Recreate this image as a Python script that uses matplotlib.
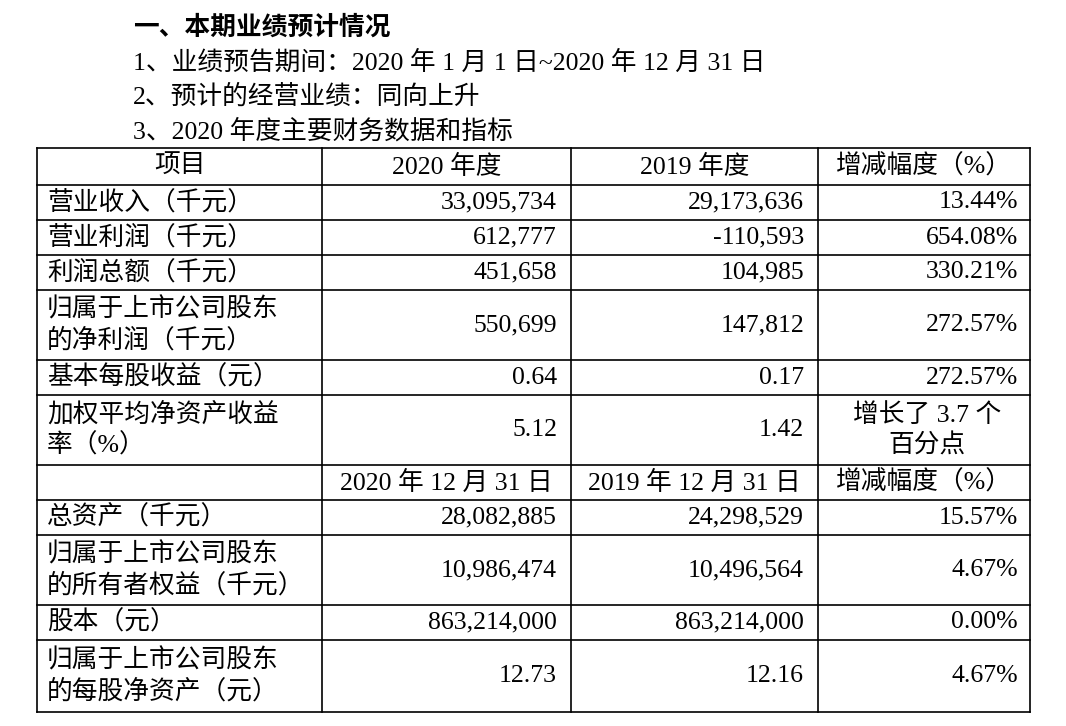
import matplotlib
matplotlib.use("Agg")
import matplotlib.pyplot as plt

FONT = ["Liberation Serif", "Noto Sans CJK SC"]
plt.rcParams["font.family"] = FONT

title_lines = ["一、本期业绩预计情况",
               "1、业绩预告期间：2020 年 1 月 1 日~2020 年 12 月 31 日",
               "2、预计的经营业绩：同向上升",
               "3、2020 年度主要财务数据和指标"]
header1 = ["项目", "2020 年度", "2019 年度", "增减幅度（%）"]
header2 = ["", "2020 年 12 月 31 日", "2019 年 12 月 31 日", "增减幅度（%）"]
items1 = ["营业收入（千元）", "营业利润（千元）", "利润总额（千元）",
          "归属于上市公司股东\n的净利润（千元）", "基本每股收益（元）",
          "加权平均净资产收益\n率（%）"]
v2020_1 = ["33,095,734", "612,777", "451,658", "550,699", "0.64", "5.12"]
v2019_1 = ["29,173,636", "-110,593", "104,985", "147,812", "0.17", "1.42"]
chg_1 = ["13.44%", "654.08%", "330.21%", "272.57%", "272.57%", "增长了 3.7 个\n百分点"]
items2 = ["总资产（千元）", "归属于上市公司股东\n的所有者权益（千元）", "股本（元）",
          "归属于上市公司股东\n的每股净资产（元）"]
v2020_2 = ["28,082,885", "10,986,474", "863,214,000", "12.73"]
v2019_2 = ["24,298,529", "10,496,564", "863,214,000", "12.16"]
chg_2 = ["15.57%", "4.67%", "0.00%", "4.67%"]

fig = plt.figure(figsize=(10.66, 7.26), dpi=100)
ax = fig.add_axes([0, 0, 1, 1])
ax.set_xlim(0, 1066); ax.set_ylim(726, 0); ax.axis("off")
fs = 18.5

ys = [27, 63, 97, 131]
for i, (t, y) in enumerate(zip(title_lines, ys)):
    ax.text(133, y, t, fontsize=fs, va="center", ha="left",
            fontweight="bold" if i == 0 else "normal")

xs = [37, 322, 571, 818, 1030]
rows = [148, 185, 220, 255, 290, 360, 395, 465, 500, 535, 605, 640, 712]
for y in rows:
    ax.plot([xs[0], xs[-1]], [y, y], color="black", lw=1.2)
for x in xs:
    ax.plot([x, x], [rows[0], rows[-1]], color="black", lw=1.2)

def row(r0, r1, item, a, b, c, header=False):
    yc = (r0 + r1) / 2
    if header:
        for k, t in enumerate([item, a, b, c]):
            ax.text((xs[k] + xs[k + 1]) / 2, yc, t, fontsize=fs, ha="center", va="center")
        return
    ax.text(47, yc, item, fontsize=fs, ha="left", va="center", linespacing=1.35)
    ax.text(xs[2] - 14, yc, a, fontsize=fs, ha="right", va="center")
    ax.text(xs[3] - 14, yc, b, fontsize=fs, ha="right", va="center")
    if "\n" in c:
        ax.text((xs[3] + xs[4]) / 2 + 3, yc, c, fontsize=fs, ha="center", va="center", linespacing=1.35)
    else:
        ax.text(xs[4] - 12, yc, c, fontsize=fs, ha="right", va="center")

row(rows[0], rows[1], *header1, header=True)
for i in range(6):
    row(rows[i + 1], rows[i + 2], items1[i], v2020_1[i], v2019_1[i], chg_1[i])
row(rows[7], rows[8], *header2, header=True)
for i in range(4):
    row(rows[i + 8], rows[i + 9], items2[i], v2020_2[i], v2019_2[i], chg_2[i])

fig.savefig("out.png", dpi=100)
